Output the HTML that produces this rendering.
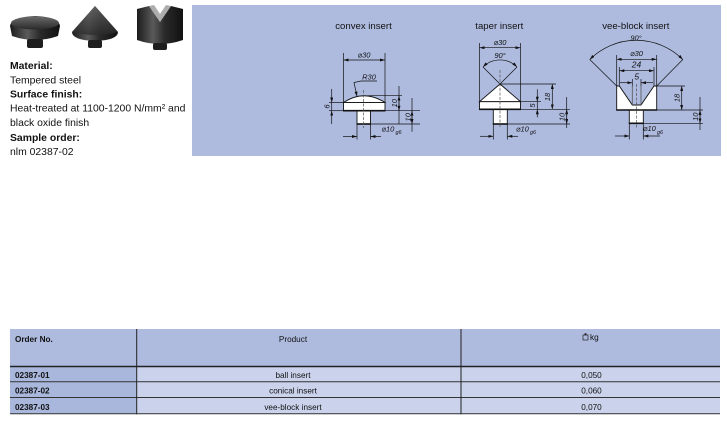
<!DOCTYPE html>
<html><head><meta charset="utf-8">
<style>
html,body{margin:0;padding:0;background:#fff;}
svg{display:block;}
text{font-family:"Liberation Sans","DejaVu Sans",sans-serif;fill:#111;}
.d{font-size:7.5px;font-style:italic;}
.t{font-size:9.6px;}
.l{font-size:10.4px;}
.b{font-weight:bold;}
.tb{font-size:8.2px;}
.ln{stroke:#111;stroke-width:0.7;fill:none;}
.sh{stroke:#111;stroke-width:0.9;fill:#fff;}
.th{stroke:#111;stroke-width:1.6;}
.cl{stroke:#555;stroke-width:0.7;stroke-dasharray:3,1.5;}
</style></head><body>
<svg width="727" height="424" viewBox="0 0 727 424" xmlns="http://www.w3.org/2000/svg">
<defs>
<marker id="a" viewBox="0 0 10 6" refX="10" refY="3" markerWidth="5" markerHeight="3" orient="auto-start-reverse" markerUnits="userSpaceOnUse"><path d="M0,0L10,3L0,6z" fill="#111"/></marker>
<linearGradient id="g1" x1="0" y1="0" x2="1" y2="0"><stop offset="0" stop-color="#1c1c1c"/><stop offset="0.35" stop-color="#5a5a5a"/><stop offset="0.6" stop-color="#2a2a2a"/><stop offset="1" stop-color="#111"/></linearGradient>
<linearGradient id="g2" x1="0" y1="0" x2="0" y2="1"><stop offset="0" stop-color="#6a6a6a"/><stop offset="1" stop-color="#2a2a2a"/></linearGradient>
</defs>

<!-- product photos -->
<path d="M10,26 Q11,17 35,16 Q59,17 60,26 L58,36 Q35,44 12,36 Z" fill="url(#g1)"/>
<ellipse cx="35" cy="23" rx="24" ry="6.5" fill="url(#g2)"/>
<rect x="27" y="39" width="16" height="9" rx="2" fill="#1e1e1e"/>

<path d="M95,6 L72,32 Q72,40 95,41 Q118,40 118,32 Z" fill="url(#g1)"/>
<path d="M95,6 L72,32 Q95,38 118,32 Z" fill="url(#g2)" opacity="0.7"/>
<rect x="88" y="40" width="14" height="8" rx="2" fill="#1e1e1e"/>

<path d="M137,9 L149,6 L160,22 L171,6 L183,9 L183,40 Q160,48 137,40 Z" fill="url(#g1)"/>
<path d="M149,6 L160,22 L171,6 L166,5 L160,14 L154,5 Z" fill="#777" opacity="0.6"/>
<rect x="153" y="43" width="14" height="7" rx="2" fill="#1e1e1e"/>

<!-- left text -->
<text class="l b" x="10" y="69">Material:</text>
<text class="l" x="10" y="83.3">Tempered steel</text>
<text class="l b" x="10" y="97.7">Surface finish:</text>
<text class="l" x="10" y="111.7">Heat-treated at 1100-1200 N/mm² and</text>
<text class="l" x="10" y="126">black oxide finish</text>
<text class="l b" x="10" y="141">Sample order:</text>
<text class="l" x="10" y="155">nlm 02387-02</text>

<!-- panel -->
<rect x="192" y="5" width="529" height="151" fill="#aebbdf"/>

<!-- ===== convex insert ===== -->
<text class="t" x="363.5" y="29" text-anchor="middle">convex insert</text>
<line class="ln" x1="343.5" y1="53" x2="343.5" y2="102.5"/>
<line class="ln" x1="385" y1="53" x2="385" y2="102.5"/>
<line class="ln" x1="343.5" y1="60" x2="385" y2="60" marker-start="url(#a)" marker-end="url(#a)"/>
<text class="d" x="364" y="57.5" text-anchor="middle">⌀30</text>
<text class="d" x="369" y="79.5" text-anchor="middle">R30</text>
<polyline class="ln" points="377,81 361,81 354,82.5 357,96.5" marker-end="url(#a)"/>
<path class="sh" d="M343.5,102.5 Q364,89 385,102.5 Z"/>
<rect class="sh" x="343.5" y="102.5" width="41.5" height="8.2"/>
<rect class="sh" x="357" y="110.7" width="13.5" height="13.3"/>
<line class="th" x1="343" y1="110.7" x2="385.5" y2="110.7"/>
<line class="th" x1="356.5" y1="124" x2="371" y2="124"/>
<line class="cl" x1="363.5" y1="90" x2="363.5" y2="128"/>
<!-- 6 -->
<line class="ln" x1="329" y1="102.5" x2="343.5" y2="102.5"/>
<line class="ln" x1="329" y1="110.7" x2="343.5" y2="110.7"/>
<line class="ln" x1="331.7" y1="89" x2="331.7" y2="102.5" marker-end="url(#a)"/>
<line class="ln" x1="331.7" y1="124" x2="331.7" y2="110.7" marker-end="url(#a)"/>
<line class="ln" x1="331.7" y1="102.5" x2="331.7" y2="110.7"/>
<text class="d" transform="translate(329.5,106.6) rotate(-90)" text-anchor="middle">6</text>
<!-- 10 a -->
<line class="ln" x1="368" y1="95.7" x2="402" y2="95.7"/>
<line class="ln" x1="385" y1="110.7" x2="420" y2="110.7"/>
<line class="ln" x1="399" y1="86" x2="399" y2="124"/>
<line class="ln" x1="399" y1="103" x2="399" y2="95.7" marker-end="url(#a)"/>
<line class="ln" x1="399" y1="103" x2="399" y2="110.7" marker-end="url(#a)"/>
<text class="d" transform="translate(397,103.2) rotate(-90)" text-anchor="middle">10</text>
<!-- 10 b -->
<line class="ln" x1="370.5" y1="124" x2="420" y2="124"/>
<line class="ln" x1="412" y1="98" x2="412" y2="131.7"/>
<line class="ln" x1="412" y1="117" x2="412" y2="110.7" marker-end="url(#a)"/>
<line class="ln" x1="412" y1="117" x2="412" y2="124" marker-end="url(#a)"/>
<text class="d" transform="translate(410.5,117.3) rotate(-90)" text-anchor="middle">10</text>
<!-- ø10 -->
<line class="ln" x1="357" y1="124" x2="357" y2="139.5"/>
<line class="ln" x1="370.5" y1="124" x2="370.5" y2="139.5"/>
<line class="ln" x1="343" y1="136.5" x2="357" y2="136.5" marker-end="url(#a)"/>
<line class="ln" x1="381" y1="136.5" x2="370.5" y2="136.5" marker-end="url(#a)"/>
<text class="d" x="381.5" y="131.5">⌀10</text>
<text class="d" x="395.5" y="134" style="font-size:5.5px">g6</text>

<!-- ===== taper insert ===== -->
<text class="t" x="499.3" y="29" text-anchor="middle">taper insert</text>
<line class="ln" x1="479.5" y1="43" x2="479.5" y2="101.7"/>
<line class="ln" x1="520.5" y1="43" x2="520.5" y2="101.7"/>
<line class="ln" x1="479.5" y1="47.7" x2="520.5" y2="47.7" marker-start="url(#a)" marker-end="url(#a)"/>
<text class="d" x="500" y="45" text-anchor="middle">⌀30</text>
<path class="ln" d="M483,67 A24,24 0 0 1 517,67" marker-start="url(#a)" marker-end="url(#a)"/>
<line class="ln" x1="483" y1="67" x2="500" y2="84"/>
<line class="ln" x1="517" y1="67" x2="500" y2="84"/>
<text class="d" x="500" y="58" text-anchor="middle">90°</text>
<polygon class="sh" points="479.5,101.7 500,84 520.5,101.7"/>
<rect class="sh" x="479.5" y="101.7" width="41" height="7.6"/>
<rect class="sh" x="493.3" y="109.3" width="14" height="14.7"/>
<line class="th" x1="479" y1="109.3" x2="521" y2="109.3"/>
<line class="th" x1="492.8" y1="124" x2="507.8" y2="124"/>
<line class="cl" x1="500" y1="70" x2="500" y2="128"/>
<!-- 18 -->
<line class="ln" x1="500" y1="84" x2="556" y2="84"/>
<line class="ln" x1="520.5" y1="109.3" x2="570" y2="109.3"/>
<line class="ln" x1="552.3" y1="84" x2="552.3" y2="109.3" marker-start="url(#a)" marker-end="url(#a)"/>
<text class="d" transform="translate(550,97) rotate(-90)" text-anchor="middle">18</text>
<!-- 5 -->
<line class="ln" x1="520.5" y1="101.7" x2="541" y2="101.7"/>
<line class="ln" x1="537.3" y1="89.3" x2="537.3" y2="101.7" marker-end="url(#a)"/>
<line class="ln" x1="537.3" y1="117.3" x2="537.3" y2="109.3" marker-end="url(#a)"/>
<line class="ln" x1="537.3" y1="101.7" x2="537.3" y2="109.3"/>
<text class="d" transform="translate(535,105.5) rotate(-90)" text-anchor="middle">5</text>
<!-- 10 -->
<line class="ln" x1="507.3" y1="124" x2="570" y2="124"/>
<line class="ln" x1="566.7" y1="97" x2="566.7" y2="128"/>
<line class="ln" x1="566.7" y1="116.5" x2="566.7" y2="109.3" marker-end="url(#a)"/>
<line class="ln" x1="566.7" y1="116.5" x2="566.7" y2="124" marker-end="url(#a)"/>
<text class="d" transform="translate(564.5,117) rotate(-90)" text-anchor="middle">10</text>
<!-- ø10 -->
<line class="ln" x1="493.3" y1="124" x2="493.3" y2="139.5"/>
<line class="ln" x1="507.3" y1="124" x2="507.3" y2="139.5"/>
<line class="ln" x1="480" y1="136.3" x2="493.3" y2="136.3" marker-end="url(#a)"/>
<line class="ln" x1="518" y1="136.3" x2="507.3" y2="136.3" marker-end="url(#a)"/>
<text class="d" x="516" y="131.5">⌀10</text>
<text class="d" x="530" y="134" style="font-size:5.5px">g6</text>

<!-- ===== vee-block insert ===== -->
<text class="t" x="635.8" y="29" text-anchor="middle">vee-block insert</text>
<path class="ln" d="M589.8,59.5 A65.8,65.8 0 0 1 682.8,59.5" marker-start="url(#a)" marker-end="url(#a)"/>
<line class="ln" x1="616.7" y1="86" x2="589.8" y2="59.5"/>
<line class="ln" x1="656.7" y1="86" x2="682.8" y2="59.5"/>
<text class="d" x="636" y="40.5" text-anchor="middle">90°</text>
<line class="ln" x1="616.7" y1="55" x2="616.7" y2="86"/>
<line class="ln" x1="656.7" y1="55" x2="656.7" y2="86"/>
<line class="ln" x1="616.7" y1="59.3" x2="656.7" y2="59.3" marker-start="url(#a)" marker-end="url(#a)"/>
<text class="d" x="636.5" y="56" text-anchor="middle">⌀30</text>
<line class="ln" x1="619.3" y1="67" x2="619.3" y2="86"/>
<line class="ln" x1="654" y1="67" x2="654" y2="86"/>
<line class="ln" x1="619.3" y1="70.7" x2="654" y2="70.7" marker-start="url(#a)" marker-end="url(#a)"/>
<text class="d" x="636.5" y="67.5" text-anchor="middle" style="font-size:8.5px">24</text>
<line class="ln" x1="632.3" y1="79" x2="632.3" y2="86"/>
<line class="ln" x1="641" y1="79" x2="641" y2="86"/>
<line class="ln" x1="620" y1="82.7" x2="632.3" y2="82.7" marker-end="url(#a)"/>
<line class="ln" x1="653" y1="82.7" x2="641" y2="82.7" marker-end="url(#a)"/>
<text class="d" x="636.7" y="79.5" text-anchor="middle" style="font-size:8.5px">5</text>
<polygon class="sh" points="616.7,86 619.3,86 632.3,105 641,105 654,86 656.7,86 656.7,110 616.7,110"/>
<line x1="632.3" y1="86" x2="632.3" y2="105" stroke="#555" stroke-width="0.8"/>
<line x1="641" y1="86" x2="641" y2="105" stroke="#555" stroke-width="0.8"/>
<rect class="sh" x="629.3" y="110" width="14" height="13.3"/>
<line class="th" x1="616.2" y1="110" x2="657.2" y2="110"/>
<line class="th" x1="628.8" y1="123.3" x2="643.8" y2="123.3"/>
<line class="cl" x1="636.6" y1="84" x2="636.6" y2="128"/>
<!-- 18 -->
<line class="ln" x1="656.7" y1="86" x2="685" y2="86"/>
<line class="ln" x1="656.7" y1="110" x2="703" y2="110"/>
<line class="ln" x1="681.7" y1="86" x2="681.7" y2="110" marker-start="url(#a)" marker-end="url(#a)"/>
<text class="d" transform="translate(679.5,98) rotate(-90)" text-anchor="middle">18</text>
<!-- 10 -->
<line class="ln" x1="643.3" y1="123.3" x2="703" y2="123.3"/>
<line class="ln" x1="700" y1="97" x2="700" y2="130"/>
<line class="ln" x1="700" y1="116.6" x2="700" y2="110" marker-end="url(#a)"/>
<line class="ln" x1="700" y1="116.6" x2="700" y2="123.3" marker-end="url(#a)"/>
<text class="d" transform="translate(698,116.7) rotate(-90)" text-anchor="middle">10</text>
<!-- ø10 -->
<line class="ln" x1="629.3" y1="123.3" x2="629.3" y2="139.5"/>
<line class="ln" x1="643.3" y1="123.3" x2="643.3" y2="139.5"/>
<line class="ln" x1="615" y1="136" x2="629.3" y2="136" marker-end="url(#a)"/>
<line class="ln" x1="660" y1="136" x2="643.3" y2="136" marker-end="url(#a)"/>
<text class="d" x="643" y="131">⌀10</text>
<text class="d" x="657" y="134" style="font-size:5.5px">g6</text>

<!-- ===== table ===== -->
<rect x="10" y="329" width="710" height="37.5" fill="#aebbdf"/>
<rect x="10" y="366.5" width="126.7" height="47.3" fill="#a9b7dc"/>
<rect x="136.7" y="366.5" width="583.3" height="47.3" fill="#cbd3ec"/>
<line x1="10" y1="366.5" x2="720" y2="366.5" stroke="#222" stroke-width="1.5"/>
<line x1="10" y1="381.8" x2="720" y2="381.8" stroke="#333" stroke-width="1"/>
<line x1="10" y1="397.5" x2="720" y2="397.5" stroke="#333" stroke-width="1"/>
<line x1="10" y1="413.8" x2="720" y2="413.8" stroke="#333" stroke-width="1"/>
<line x1="136.7" y1="329" x2="136.7" y2="414.3" stroke="#222" stroke-width="1"/>
<line x1="461" y1="329" x2="461" y2="414.3" stroke="#222" stroke-width="1"/>

<text class="tb b" x="15" y="342">Order No.</text>
<text class="tb" x="293" y="342" text-anchor="middle">Product</text>
<rect x="583" y="335" width="5" height="5" fill="none" stroke="#222" stroke-width="0.7"/>
<rect x="584.5" y="333.3" width="2" height="2" fill="#222"/>
<text class="tb" x="590" y="340">kg</text>

<text class="tb b" x="15" y="378">02387-01</text>
<text class="tb b" x="15" y="393.5">02387-02</text>
<text class="tb b" x="15" y="410">02387-03</text>

<text class="tb" x="293" y="378" text-anchor="middle">ball insert</text>
<text class="tb" x="293" y="393.5" text-anchor="middle">conical insert</text>
<text class="tb" x="293" y="410" text-anchor="middle">vee-block insert</text>

<text class="tb" x="591.5" y="378" text-anchor="middle">0,050</text>
<text class="tb" x="591.5" y="393.5" text-anchor="middle">0,060</text>
<text class="tb" x="591.5" y="410" text-anchor="middle">0,070</text>
</svg>
</body></html>
